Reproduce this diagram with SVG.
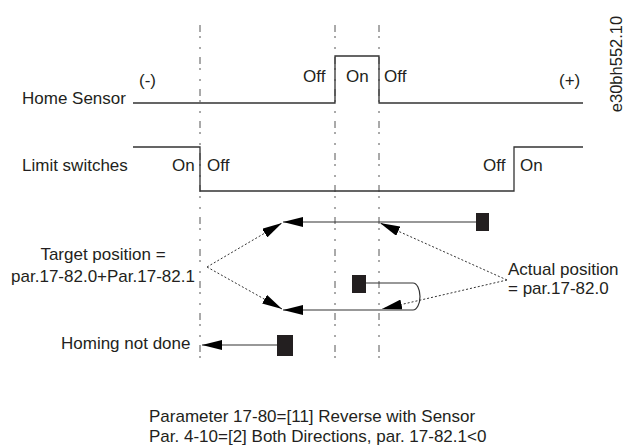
<svg xmlns="http://www.w3.org/2000/svg" width="627" height="446" viewBox="0 0 627 446">
<style>
text{font-family:"Liberation Sans",Arial,sans-serif;font-size:17px;fill:#231f20}
.sig{fill:none;stroke:#333;stroke-width:1.3}
.guide{fill:none;stroke:#555;stroke-width:1;stroke-dasharray:7 4 2 9 2 8}
.conn{fill:none;stroke:#333;stroke-width:1.2}
.dot{fill:none;stroke:#333;stroke-width:1;stroke-dasharray:2 2}
.blk{fill:#231f20}
</style>
<defs>
<marker id="ah" viewBox="0 0 20 10" refX="20" refY="5" markerWidth="20" markerHeight="10" markerUnits="userSpaceOnUse" orient="auto">
<path d="M0,0 L20,5 L0,10 z" fill="#000"/>
</marker>
</defs>
<rect width="627" height="446" fill="#fff"/>
<g id="guides">
<line class="guide" x1="200" y1="25" x2="200" y2="366"/>
<line class="guide" x1="335" y1="25" x2="335" y2="366"/>
<line class="guide" x1="379" y1="25" x2="379" y2="366"/>
</g>
<g id="home-sensor">
<text x="22" y="104">Home Sensor</text>
<path class="sig" d="M133,103 H335 V56 H379 V103 H583"/>
<text x="139" y="86">(-)</text>
<text x="303" y="82">Off</text>
<text x="346" y="82">On</text>
<text x="384" y="82">Off</text>
<text x="559" y="86">(+)</text>
</g>
<g id="limit-switches">
<text x="22" y="171">Limit switches</text>
<path class="sig" d="M133,147 H200 V191 H514 V147 H583"/>
<text x="172" y="171">On</text>
<text x="207" y="171">Off</text>
<text x="483" y="171">Off</text>
<text x="520" y="171">On</text>
</g>
<g id="label-id">
<text transform="translate(622,64) rotate(-90)" text-anchor="middle" style="font-size:16.5px">e30bh552.10</text>
</g>
<g id="start-upper">
<rect class="blk" x="476" y="213" width="13" height="18"/>
</g>
<g id="start-lower">
<rect class="blk" x="352" y="275" width="14" height="18"/>
</g>
<g id="start-homing">
<rect class="blk" x="277" y="335" width="16" height="21"/>
</g>
<g id="target-label">
<text x="103" y="260" text-anchor="middle">Target position =</text>
<text x="103" y="282" text-anchor="middle">par.17-82.0+Par.17-82.1</text>
</g>
<g id="actual-label">
<text x="508" y="275">Actual position</text>
<text x="508" y="294">= par.17-82.0</text>
</g>
<g id="homing-label">
<text x="61" y="349">Homing not done</text>
</g>
<g id="connectors">
<line class="conn" x1="476" y1="222" x2="283" y2="222" marker-end="url(#ah)"/>
<path class="conn" d="M366,283 H413 A7,13.5 0 0 1 413,310 H283" marker-end="url(#ah)"/>
<line class="conn" x1="277" y1="345" x2="202" y2="345" marker-end="url(#ah)"/>
<line class="dot" x1="207" y1="267" x2="282" y2="223" marker-end="url(#ah)"/>
<line class="dot" x1="207" y1="267" x2="282" y2="309" marker-end="url(#ah)"/>
<line class="dot" x1="507" y1="280" x2="380" y2="223" marker-end="url(#ah)"/>
<line class="dot" x1="507" y1="280" x2="382" y2="309" marker-end="url(#ah)"/>
</g>
<g id="caption">
<text x="149" y="422">Parameter 17-80=[11] Reverse with Sensor</text>
<text x="149" y="442">Par. 4-10=[2] Both Directions, par. 17-82.1&lt;0</text>
</g>
</svg>
